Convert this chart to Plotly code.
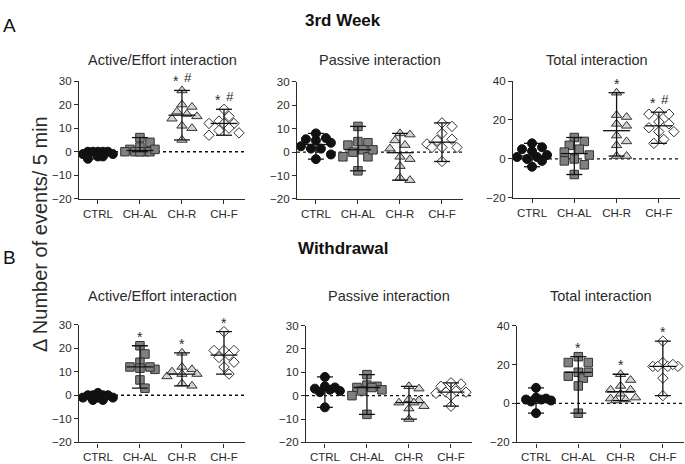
import math
import plotly.graph_objects as go

groups = ["CTRL", "CH-AL", "CH-R", "CH-F"]

# ---- 3rd week ----
wk3_active = [
    [0, 0, 0, 0, 0, -1, -1, -2, -2, -3],
    [6, 4, 2, 1, 0, 0, 0, 0, 0, 1],
    [26, 19, 20, 15, 16, 17, 14, 10, 11, 5],
    [18, 15, 13, 12, 12, 12, 10, 9, 7, 8],
]
wk3_passive = [
    [8, 4, 5.5, 6, 5, 1.5, 1.5, -3, -1, 2.5],
    [11, 4.5, 3, 4, 1, 0, -2, -2, 1, -8],
    [5, 7.5, 8, 1.5, 3, -6, -3, -12, -11, -2],
    [12.5, 11, 8, 5.5, 5, 3.5, 2, 2, 2, -4],
]
wk3_total = [
    [8, 4, 6, 5, 2, 1, 0, -1, -4, 1],
    [11, 7, 9, 5, 3.5, 0, 2, -1, -3, -8],
    [34, 22.5, 21.5, 17, 18, 7, 9, 1.5, 1.5, 12],
    [24, 23, 23, 19, 18, 14, 14, 16, 8, 10],
]
# ---- Withdrawal ----
wd_active = [
    [1, 0, 0, 0, 0, -1, -1, -2, -2, -1],
    [21, 17.5, 14, 11, 12, 12, 6.5, 3, 11.5],
    [18, 12, 11, 8, 9, 9, 4, 5, 10],
    [27, 19, 19, 19, 16, 14, 12, 9, 17],
]
wd_passive = [
    [8, 3, 3.5, 2, 4, 1.5, 2.5, -5],
    [9, 4, 4.5, 3.5, 3.5, 2, 0, -8, 2.5],
    [3, 4, -1.5, -3, -4.5, -2, -5.5, -10, -3],
    [4, 5, 5.5, 2, 1.5, 1.5, 0, -4.5, 1],
]
wd_total = [
    [8, 2.5, 2, 3, 1.5, 1, 2, -5],
    [24, 21, 21, 16, 13, 14, 9, -5, 16],
    [15, 12, 7, 9, 5, 2.5, 2, 3, 1.5, 7],
    [32, 21, 19, 19, 19, 19, 13, 4, 20],
]

wk3_active_sig = ["", "", "* #", "* #"]
wk3_passive_sig = ["", "", "", ""]
wk3_total_sig = ["", "", "*", "* #"]
wd_active_sig = ["", "*", "*", "*"]
wd_passive_sig = ["", "", "", ""]
wd_total_sig = ["", "*", "*", "*"]

panel_titles = ["Active/Effort interaction", "Passive interaction", "Total interaction"]
y_title = "Δ Number of events/ 5 min"

W, H = 685, 464
FONT = "Liberation Sans, Arial, Helvetica, sans-serif"
INK = "#2b2b2b"

# (data, sig, x0px, x1px, ytop_px, ybot_px, yrange, dtick)
panels = [
    (wk3_active, wk3_active_sig, 79, 245, 77, 198, [-20, 30], 10),
    (wk3_passive, wk3_passive_sig, 297, 463, 78, 198, [-20, 30], 10),
    (wk3_total, wk3_total_sig, 513, 680, 77, 197, [-20, 40], 20),
    (wd_active, wd_active_sig, 79, 245, 327, 448, [-20, 30], 10),
    (wd_passive, wd_passive_sig, 306, 472, 328, 448, [-20, 30], 10),
    (wd_total, wd_total_sig, 517, 684, 328, 448, [-20, 40], 20),
]
XR = [-0.45, 3.5]

styles = [
    dict(symbol="circle", size=9, color="#111111", line=dict(color="#111111", width=1)),
    dict(symbol="square", size=8.5, color="#808080", line=dict(color="#333333", width=1)),
    dict(symbol="triangle-up", size=9, color="#d4d4d4", line=dict(color="#333333", width=1)),
    dict(symbol="diamond", size=8, color="#ffffff", line=dict(color="#333333", width=1)),
]


def swarm(vals, ppu, ppc, diam=8.5, step=5.0, maxk=3):
    cands = [0.0]
    for k in range(1, maxk + 1):
        cands += [k * step, -k * step]
    placed = []
    offs = [0.0] * len(vals)
    order = sorted(range(len(vals)), key=lambda i: -vals[i])
    for i in order:
        y = vals[i] * ppu
        chosen = None
        bestc, bestd = 0.0, -1.0
        for c in cands:
            d = min((math.hypot(c - px, y - py) for px, py in placed), default=1e9)
            if d >= diam:
                chosen = c
                break
            if d > bestd:
                bestd, bestc = d, c
        if chosen is None:
            chosen = bestc
        placed.append((chosen, y))
        offs[i] = chosen / ppc
    return offs


def med(v):
    s = sorted(v)
    n = len(s)
    return s[n // 2] if n % 2 else 0.5 * (s[n // 2 - 1] + s[n // 2])


fig = go.Figure()
annotations = []
shapes = []
layout = {}

for pi, (data, sig, x0, x1, yt, yb, yr, dt) in enumerate(panels):
    n = pi + 1
    xa = "x" if n == 1 else f"x{n}"
    ya = "y" if n == 1 else f"y{n}"
    xkey = "xaxis" if n == 1 else f"xaxis{n}"
    ykey = "yaxis" if n == 1 else f"yaxis{n}"
    ppc = (x1 - x0) / (XR[1] - XR[0])
    ppu = (yb - yt) / (yr[1] - yr[0])
    layout[xkey] = dict(
        domain=[x0 / W, x1 / W], anchor=ya, range=XR, tickvals=[0, 1, 2, 3], ticktext=groups,
        showline=True, linecolor=INK, linewidth=1.3, ticks="outside", ticklen=4, tickwidth=1.3,
        tickcolor=INK, showgrid=False, zeroline=False, fixedrange=True,
        tickfont=dict(family=FONT, size=11.5, color=INK),
    )
    layout[ykey] = dict(
        domain=[1 - yb / H, 1 - yt / H], anchor=xa, range=yr, dtick=dt, tick0=yr[0],
        showline=True, linecolor=INK, linewidth=1.3, ticks="outside", ticklen=4, tickwidth=1.3,
        tickcolor=INK, showgrid=False, zeroline=False, fixedrange=True,
        tickfont=dict(family=FONT, size=11.5, color=INK),
    )
    shapes.append(dict(type="line", xref=f"{xa} domain", yref=ya, x0=0, x1=1, y0=0, y1=0,
                       line=dict(color="#111111", width=1.3, dash="dot"), layer="below"))
    # markers
    for gi, vals in enumerate(data):
        offs = swarm(vals, ppu, ppc)
        st = styles[gi]
        fig.add_trace(go.Scatter(
            x=[gi + o for o in offs], y=vals, mode="markers", xaxis=xa, yaxis=ya,
            marker=dict(symbol=st["symbol"], size=st["size"], color=st["color"], line=st["line"]),
            hoverinfo="y", showlegend=False,
        ))
    # median with range
    for gi, vals in enumerate(data):
        lo, hi, m = min(vals), max(vals), med(vals)
        cw, mw = 0.19, 0.32
        xs = [gi - cw, gi + cw, None, gi - cw, gi + cw, None, gi - mw, gi + mw, None, gi, gi]
        ys = [hi, hi, None, lo, lo, None, m, m, None, lo, hi]
        fig.add_trace(go.Scatter(x=xs, y=ys, mode="lines", xaxis=xa, yaxis=ya,
                                 line=dict(color="#111111", width=1.3), hoverinfo="skip",
                                 showlegend=False))
    # significance marks
    for gi, s in enumerate(sig):
        if not s:
            continue
        top = max(data[gi])
        parts = s.split()
        if len(parts) == 1:
            annotations.append(dict(x=gi, y=top, xref=xa, yref=ya, text="*", showarrow=False,
                                    yshift=9, font=dict(family=FONT, size=14, color=INK)))
        else:
            annotations.append(dict(x=gi, y=top, xref=xa, yref=ya, text="*", showarrow=False,
                                    xshift=-6, yshift=9, font=dict(family=FONT, size=14, color=INK)))
            annotations.append(dict(x=gi, y=top, xref=xa, yref=ya, text="#", showarrow=False,
                                    xshift=6, yshift=13, font=dict(family=FONT, size=13.5, color=INK)))
    # panel title
    ty = 55 if pi < 3 else 298
    annotations.append(dict(x=(x0 + x1) / 2 / W, y=1 - ty / H, xref="paper", yref="paper",
                            text=panel_titles[pi % 3], showarrow=False, xanchor="center",
                            yanchor="middle", font=dict(family=FONT, size=14.5, color=INK)))

# section titles and letters
for txt, px, py, size, bold in [("3rd Week", 343, 15, 17, True), ("Withdrawal", 343, 249, 17, True),
                                ("A", 9, 20, 19, False), ("B", 9, 258, 19, False)]:
    annotations.append(dict(x=px / W, y=1 - py / H, xref="paper", yref="paper",
                            text=f"<b>{txt}</b>" if bold else txt, showarrow=False,
                            xanchor="center", yanchor="middle",
                            font=dict(family=FONT, size=size, color="#111111")))
annotations.append(dict(x=40 / W, y=1 - 234 / H, xref="paper", yref="paper", text=y_title,
                        textangle=-90, showarrow=False, xanchor="center", yanchor="middle",
                        font=dict(family=FONT, size=20, color=INK)))

fig.update_layout(
    width=W, height=H, margin=dict(l=0, r=0, t=0, b=0),
    paper_bgcolor="white", plot_bgcolor="white", showlegend=False,
    annotations=annotations, shapes=shapes, **layout,
)

fig.write_html(
    "out.html",
    config={"displayModeBar": False},
    post_script="document.body.style.margin='0';document.body.style.padding='0';"
                "document.documentElement.style.overflow='hidden';document.body.style.overflow='hidden';",
)
